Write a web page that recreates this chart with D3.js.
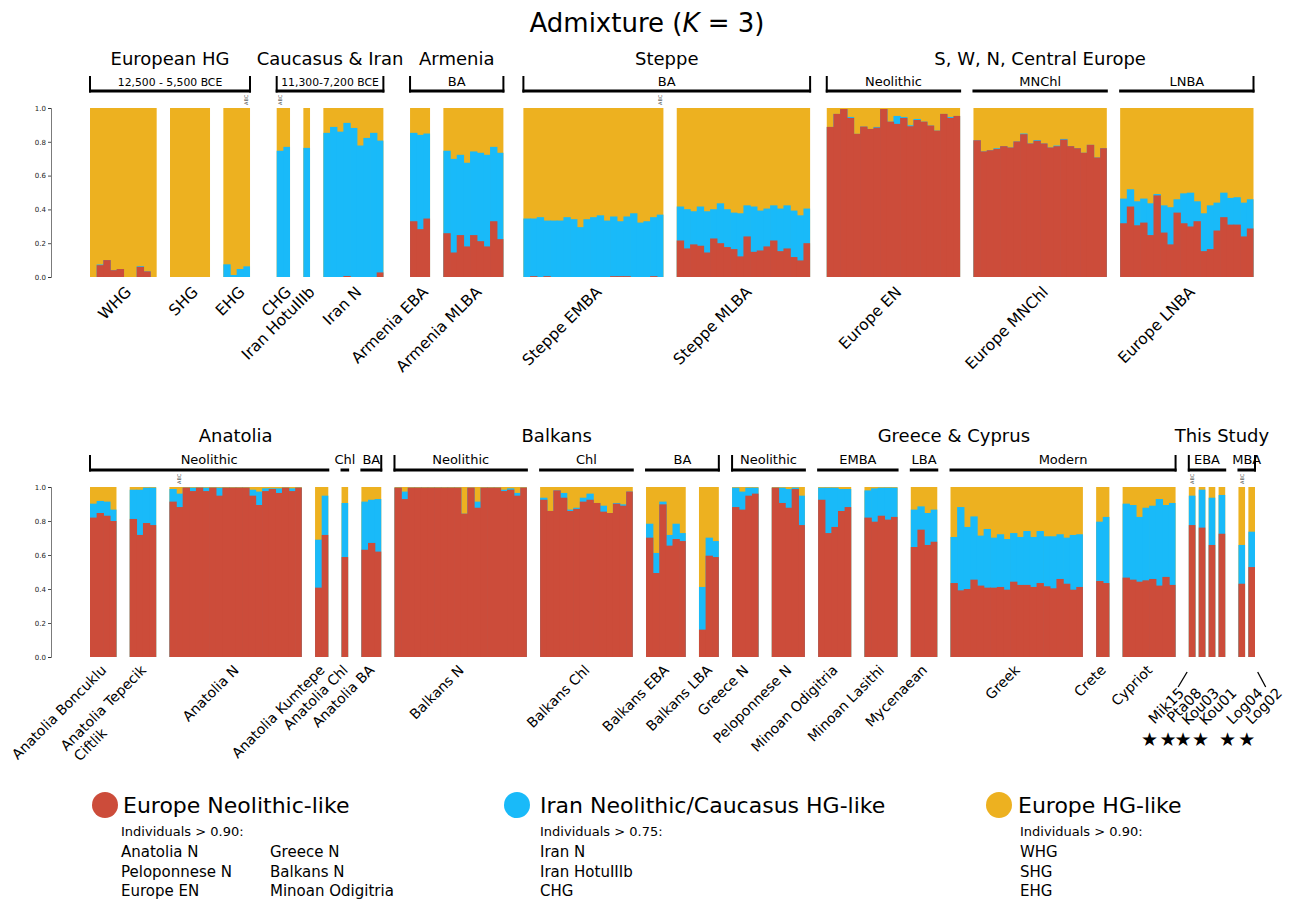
<!DOCTYPE html>
<html><head><meta charset="utf-8">
<script src="https://cdn.jsdelivr.net/npm/d3@7"></script>
<style>
body{margin:0;background:#fff;}
svg text{font-family:"DejaVu Sans",Verdana,sans-serif;fill:#000;}
</style></head>
<body><svg id="chart" width="1295" height="899"></svg>
<script>
// ================= DATA =================
const components = ["Europe Neolithic-like", "Iran Neolithic/Caucasus HG-like", "Europe HG-like"];
const componentColors = ["#cc4c3a", "#19baf9", "#edb120"];

// ---- top panel ----
const topCategories = ["WHG","SHG","EHG","CHG","Iran HotuIIIb","Iran N","Armenia EBA","Armenia MLBA","Steppe EMBA","Steppe MLBA","Europe EN","Europe MNChl","Europe LNBA"];
// Europe Neolithic-like share per individual
const topEN = [
  [0,0.07,0.10,0.04,0.047,0,0,0.06,0.033,0],
  [0,0,0,0,0,0],
  [0,0,0,0],
  [0,0],
  [0],
  [0,0,0,0.006,0,0,0,0,0.027],
  [0.33,0.283,0.346],
  [0.259,0.145,0.248,0.181,0.248,0.212,0.181,0.330,0.224],
  [0,0.005,0,0.005,0,0,0,0,0,0,0,0,0,0.005,0.005,0.005,0,0,0,0.005,0],
  [0.216,0.169,0.193,0.185,0.145,0.228,0.200,0.177,0.165,0.122,0.240,0.149,0.157,0.181,0.216,0.153,0.169,0.118,0.098,0.200],
  [0.888,0.965,0.994,0.941,0.847,0.890,0.876,0.884,0.994,0.919,0.906,0.941,0.892,0.929,0.919,0.896,0.866,0.965,0.941,0.953],
  [0.809,0.743,0.750,0.758,0.774,0.766,0.802,0.845,0.790,0.806,0.790,0.766,0.774,0.813,0.774,0.762,0.735,0.782,0.707,0.762],
  [0.318,0.417,0.306,0.322,0.248,0.483,0.263,0.193,0.381,0.318,0.299,0.330,0.153,0.165,0.275,0.354,0.310,0.310,0.240,0.287]
];
// Iran Neolithic/Caucasus HG-like share per individual
const topIR = [
  [0,0.004,0,0,0,0,0,0.004,0,0],
  [0,0,0,0,0,0],
  [0.075,0.012,0.047,0.063],
  [0.747,0.770],
  [0.764],
  [0.853,0.888,0.860,0.906,0.882,0.778,0.823,0.853,0.780],
  [0.523,0.558,0.503],
  [0.488,0.554,0.475,0.495,0.495,0.523,0.542,0.440,0.511],
  [0.346,0.341,0.354,0.329,0.334,0.334,0.354,0.342,0.295,0.342,0.354,0.365,0.334,0.353,0.325,0.353,0.377,0.322,0.330,0.349,0.369],
  [0.201,0.232,0.196,0.232,0.244,0.173,0.236,0.224,0.216,0.255,0.184,0.268,0.236,0.224,0.208,0.252,0.255,0.275,0.267,0.205],
  [0,0,0,0.006,0,0,0,0.004,0,0,0.047,0.006,0.006,0.006,0,0,0,0,0.006,0],
  [0,0,0,0.004,0,0,0,0.004,0,0.004,0,0,0.004,0.004,0,0,0,0,0,0],
  [0.146,0.102,0.142,0.142,0.188,0.008,0.161,0.220,0.079,0.177,0.200,0.118,0.224,0.259,0.165,0.145,0.158,0.162,0.200,0.173]
];

// ---- bottom panel ----
const bottomCategories = ["Anatolia Boncuklu","Anatolia Tepecik Ciftlik","Anatolia N","Anatolia Kumtepe","Anatolia Chl","Anatolia BA","Balkans N","Balkans Chl","Balkans EBA","Balkans LBA","Greece N","Peloponnese N","Minoan Odigitria","Minoan Lasithi","Mycenaean","Greek","Crete","Cypriot","Mik15","Pta08","Kou03","Kou01","Log04","Log02"];
const bottomEN = [
  [0.820,0.847,0.831,0.800],
  [0.812,0.718,0.788,0.776],
  [0.914,0.882,0.996,0.976,0.996,0.976,0.996,0.949,0.996,0.996,0.996,0.996,0.949,0.894,0.976,0.988,0.965,0.996,0.976,0.996],
  [0.408,0.718],
  [0.588],
  [0.631,0.671,0.620],
  [0.996,0.929,0.996,0.996,0.996,0.996,0.996,0.996,0.996,0.996,0.843,0.996,0.878,0.996,0.996,0.996,0.976,0.984,0.949,0.996],
  [0.925,0.859,0.980,0.937,0.859,0.871,0.914,0.925,0.906,0.855,0.847,0.902,0.890,0.973],
  [0.702,0.494,0.898,0.655,0.694,0.682],
  [0.161,0.596,0.588],
  [0.882,0.867,0.949,0.961],
  [0.996,0.906,0.878,0.988,0.776],
  [0.925,0.729,0.765,0.859,0.882],
  [0.820,0.796,0.831,0.808,0.824],
  [0.647,0.749,0.659,0.678],
  [0.435,0.392,0.400,0.455,0.420,0.408,0.408,0.412,0.396,0.443,0.424,0.424,0.412,0.435,0.416,0.404,0.459,0.431,0.396,0.412],
  [0.447,0.435],
  [0.467,0.455,0.443,0.451,0.459,0.420,0.471,0.424],
  [0.776],[0.761],[0.659],[0.725],
  [0.431],[0.529]
];
const bottomIR = [
  [0.082,0.071,0.083,0.067],
  [0.172,0.266,0.208,0.220],
  [0.074,0.079,0,0.020,0,0.020,0,0.047,0,0,0,0,0.035,0.079,0.016,0.004,0.027,0,0.016,0],
  [0.282,0.231],
  [0.318],
  [0.283,0.254,0.309],
  [0,0.044,0,0,0,0,0,0,0,0,0,0,0.036,0,0,0,0.008,0.008,0.016,0],
  [0.012,0,0,0.028,0.008,0.007,0.023,0.036,0,0.035,0,0.004,0.008,0],
  [0.082,0.118,0.016,0.063,0.090,0.047],
  [0.251,0.106,0.094],
  [0.114,0.106,0.047,0.035],
  [0,0.090,0.110,0.008,0.173],
  [0.071,0.267,0.231,0.129,0.106],
  [0.160,0.196,0.165,0.188,0.172],
  [0.220,0.137,0.188,0.189],
  [0.271,0.490,0.365,0.372,0.294,0.345,0.294,0.310,0.298,0.286,0.282,0.317,0.294,0.306,0.294,0.306,0.263,0.271,0.322,0.310],
  [0.349,0.389],
  [0.435,0.439,0.381,0.427,0.431,0.509,0.423,0.482],
  [0.173],[0.223],[0.278],[0.228],
  [0.228],[0.208]
];

const yTickValues = [0, 0.2, 0.4, 0.6, 0.8, 1.0];

// region / period annotations
const topRegions = [
  {title:"European HG", periods:[{label:"12,500 - 5,500 BCE", from:"WHG", to:"EHG", l:1, r:1, small:1}]},
  {title:"Caucasus & Iran", periods:[{label:"11,300-7,200 BCE", from:"CHG", to:"Iran N", l:1, r:1, small:1}]},
  {title:"Armenia", periods:[{label:"BA", from:"Armenia EBA", to:"Armenia MLBA", l:1, r:1}]},
  {title:"Steppe", periods:[{label:"BA", from:"Steppe EMBA", to:"Steppe MLBA", l:1, r:1}]},
  {title:"S, W, N, Central Europe", periods:[
    {label:"Neolithic", from:"Europe EN", to:"Europe EN", l:1, r:0},
    {label:"MNChl", from:"Europe MNChl", to:"Europe MNChl", l:0, r:0},
    {label:"LNBA", from:"Europe LNBA", to:"Europe LNBA", l:0, r:1}]}
];
const bottomRegions = [
  {title:"Anatolia", periods:[
    {label:"Neolithic", from:"Anatolia Boncuklu", to:"Anatolia Kumtepe", l:1, r:0},
    {label:"Chl", from:"Anatolia Chl", to:"Anatolia Chl", l:0, r:0},
    {label:"BA", from:"Anatolia BA", to:"Anatolia BA", l:0, r:1}]},
  {title:"Balkans", periods:[
    {label:"Neolithic", from:"Balkans N", to:"Balkans N", l:1, r:0},
    {label:"Chl", from:"Balkans Chl", to:"Balkans Chl", l:0, r:0},
    {label:"BA", from:"Balkans EBA", to:"Balkans LBA", l:0, r:1}]},
  {title:"Greece & Cyprus", periods:[
    {label:"Neolithic", from:"Greece N", to:"Peloponnese N", l:1, r:0},
    {label:"EMBA", from:"Minoan Odigitria", to:"Minoan Lasithi", l:0, r:0},
    {label:"LBA", from:"Mycenaean", to:"Mycenaean", l:0, r:0},
    {label:"Modern", from:"Greek", to:"Cypriot", l:0, r:1}]},
  {title:"This Study", periods:[
    {label:"EBA", from:"Mik15", to:"Kou01", l:1, r:0},
    {label:"MBA", from:"Log04", to:"Log02", l:0, r:1}]}
];
const abcTop = [["EHG",3],["CHG",0],["Steppe EMBA",20]];
const abcBottom = [["Anatolia N",1],["Mik15",0],["Log04",0]];
const thisStudy = ["Mik15","Pta08","Kou03","Kou01","Log04","Log02"];

const legendIndividuals = [
  {thr:"Individuals > 0.90:", col1:["Anatolia N","Peloponnese N","Europe EN"], col2:["Greece N","Balkans N","Minoan Odigitria"]},
  {thr:"Individuals > 0.75:", col1:["Iran N","Iran HotuIIIb","CHG"], col2:[]},
  {thr:"Individuals > 0.90:", col1:["WHG","SHG","EHG"], col2:[]}
];

// layout gaps (in bar widths) before each group
const topGaps = [0,2,2,4,2,2,4,2,3,2,2.5,2,2];
const bottomGaps = [0,2,2,2,2,2,2,2,2,2,2,2,2,2,2,2,2,2,2,0.5,0.5,0.5,2,0.5];

// ================= DRAW =================
const svg = d3.select("#chart");

const title = svg.append("text").attr("x", 647).attr("y", 32).attr("text-anchor","middle").style("font-size","26px");
title.append("tspan").text("Admixture (");
title.append("tspan").style("font-style","italic").text("K");
title.append("tspan").text(" = 3)");

function drawPanel(p) {
  const starts = []; let s = 0;
  p.categories.forEach((c,i) => { s += p.gaps[i]; starts.push(s); s += p.en[i].length; });
  const x = d3.scaleLinear().domain([0, s]).range([p.x0, p.x1]);
  const y = d3.scaleLinear().domain([0, 1]).range([p.yBottom, p.yTop]);
  const bw = x(1) - x(0);
  const g = svg.append("g");
  p.categories.forEach((c,i) => {
    const n = p.en[i].length;
    const gg = g.append("g");
    // Europe HG-like fills the remainder up to 1.0 (background layer)
    gg.append("rect").attr("x", x(starts[i])).attr("width", x(starts[i] + n) - x(starts[i]))
      .attr("y", y(1)).attr("height", y(0) - y(1)).attr("fill", componentColors[2]);
    const bars = p.en[i].map((e, j) => ({e, ir: p.ir[i][j], j}));
    const wOf = d => bw + (d.j < n - 1 ? 0.7 : 0);
    gg.selectAll(".ir").data(bars.filter(d => d.e + d.ir > 0)).join("rect")
      .attr("x", d => x(starts[i] + d.j)).attr("width", wOf)
      .attr("y", d => y(Math.min(1, d.e + d.ir))).attr("height", d => y(0) - y(Math.min(1, d.e + d.ir)))
      .attr("fill", componentColors[1]);
    gg.selectAll(".en").data(bars.filter(d => d.e > 0)).join("rect")
      .attr("x", d => x(starts[i] + d.j)).attr("width", wOf)
      .attr("y", d => y(d.e)).attr("height", d => y(0) - y(d.e))
      .attr("fill", componentColors[0]);
  });
  const ax = svg.append("g").attr("transform", `translate(${p.x0 - 39},0)`)
    .call(d3.axisLeft(y).tickValues(yTickValues).tickFormat(d3.format(".1f")).tickSize(3).tickPadding(2));
  ax.selectAll("text").style("font-size", "7px").style("fill", "#222");
  ax.selectAll("line").attr("stroke", "#222").attr("stroke-width", 0.8);
  ax.select(".domain").attr("stroke", "#222").attr("stroke-width", 0.6);
  const idx = name => p.categories.indexOf(name);
  return {
    x, y, bw,
    start: name => x(starts[idx(name)]),
    end: name => x(starts[idx(name)] + p.en[idx(name)].length),
    center: name => x(starts[idx(name)] + p.en[idx(name)].length / 2),
    barCenter: (name, j) => x(starts[idx(name)] + j + 0.5)
  };
}

function drawRegions(P, regions, lineY, tickTop, periodY, titleY) {
  regions.forEach(r => {
    let minX = Infinity, maxX = -Infinity;
    r.periods.forEach(pd => {
      const a = P.start(pd.from) - 1, b = P.end(pd.to) + 1;
      minX = Math.min(minX, a); maxX = Math.max(maxX, b);
      svg.append("line").attr("x1", a).attr("x2", b).attr("y1", lineY).attr("y2", lineY)
        .attr("stroke", "#000").attr("stroke-width", 3);
      if (pd.l) svg.append("line").attr("x1", a + 1).attr("x2", a + 1).attr("y1", lineY + 1.5).attr("y2", tickTop).attr("stroke", "#000").attr("stroke-width", 2);
      if (pd.r) svg.append("line").attr("x1", b - 1).attr("x2", b - 1).attr("y1", lineY + 1.5).attr("y2", tickTop).attr("stroke", "#000").attr("stroke-width", 2);
      svg.append("text").attr("x", (a + b) / 2).attr("y", periodY).attr("text-anchor", "middle")
        .style("font-size", pd.small ? "10.8px" : "13px").text(pd.label);
    });
    svg.append("text").attr("x", (minX + maxX) / 2).attr("y", titleY).attr("text-anchor", "middle")
      .style("font-size", "18px").text(r.title);
  });
}

function rotLabel(x, y, lines, size) {
  const g = svg.append("g").attr("transform", `translate(${x},${y}) rotate(-45)`);
  const t1 = g.append("text").attr("text-anchor", "end").style("font-size", size + "px").text(lines[0]);
  if (lines[1]) {
    const L = t1.node().getComputedTextLength();
    g.append("text").attr("x", -L + 2).attr("y", size * 1.2).attr("text-anchor", "start").style("font-size", size + "px").text(lines[1]);
  }
  return g;
}

function abc(x, y) {
  svg.append("text").attr("transform", `translate(${x + 1.8},${y}) rotate(-90)`).attr("text-anchor", "start")
    .style("font-size", "5px").style("fill", "#444").text("ABC");
}

// top panel
const PT = drawPanel({categories: topCategories, en: topEN, ir: topIR, gaps: topGaps, x0: 90, x1: 1253.5, yTop: 108, yBottom: 277});
drawRegions(PT, topRegions, 91, 76, 85.5, 65);
topCategories.forEach(c => rotLabel(PT.center(c) + 9, 293, [c], 15.5));
abcTop.forEach(([c, j]) => abc(PT.barCenter(c, j), 105));

// bottom panel
const PB = drawPanel({categories: bottomCategories, en: bottomEN, ir: bottomIR, gaps: bottomGaps, x0: 90, x1: 1255, yTop: 487, yBottom: 657});
drawRegions(PB, bottomRegions, 470, 455, 464, 442);
bottomCategories.forEach(c => {
  if (thisStudy.includes(c)) return;
  const lines = c === "Anatolia Tepecik Ciftlik" ? ["Anatolia Tepecik", "Ciftlik"] : [c];
  rotLabel(PB.center(c) + 4, 671, lines, 14);
});
abcBottom.forEach(([c, j]) => abc(PB.barCenter(c, j), 484));

// This Study individual labels, spread out, with stars
const spread = [0, 1, 2, 3, 4.5, 5.6];
const base = PB.center("Mik15") - 7;
thisStudy.forEach((c, k) => {
  const xe = base + spread[k] * 17.5;
  const g = rotLabel(xe, 694, [c], 14.5);
  const L = g.select("text").node().getComputedTextLength();
  svg.append("text").attr("x", xe - L * 0.707 - 5).attr("y", 746).attr("text-anchor", "middle")
    .style("font-size", "19px").text("\u2605");
});
const cM = PB.center("Mik15"), cL = PB.center("Log02");
svg.append("line").attr("x1", cM - 5).attr("y1", 672).attr("x2", cM - 14).attr("y2", 687).attr("stroke", "#000").attr("stroke-width", 1.3);
svg.append("line").attr("x1", cL + 6).attr("y1", 672).attr("x2", cL + 14).attr("y2", 687).attr("stroke", "#000").attr("stroke-width", 1.3);

// legend
const legendCircleX = [105, 517, 999];
const legendTextX = [123, 540, 1018];
const legendRowX = [121, 540, 1020];
components.forEach((name, i) => {
  svg.append("circle").attr("cx", legendCircleX[i]).attr("cy", 805).attr("r", 13).attr("fill", componentColors[i]);
  svg.append("text").attr("x", legendTextX[i]).attr("y", 813).style("font-size", "22px").text(name);
  const info = legendIndividuals[i];
  const rx = legendRowX[i];
  svg.append("text").attr("x", rx).attr("y", 836).style("font-size", "13px").text(info.thr);
  info.col1.forEach((t, r) => svg.append("text").attr("x", rx).attr("y", 857 + r * 19.5).style("font-size", "15px").text(t));
  info.col2.forEach((t, r) => svg.append("text").attr("x", rx + 149).attr("y", 857 + r * 19.5).style("font-size", "15px").text(t));
});
</script>
</body></html>
